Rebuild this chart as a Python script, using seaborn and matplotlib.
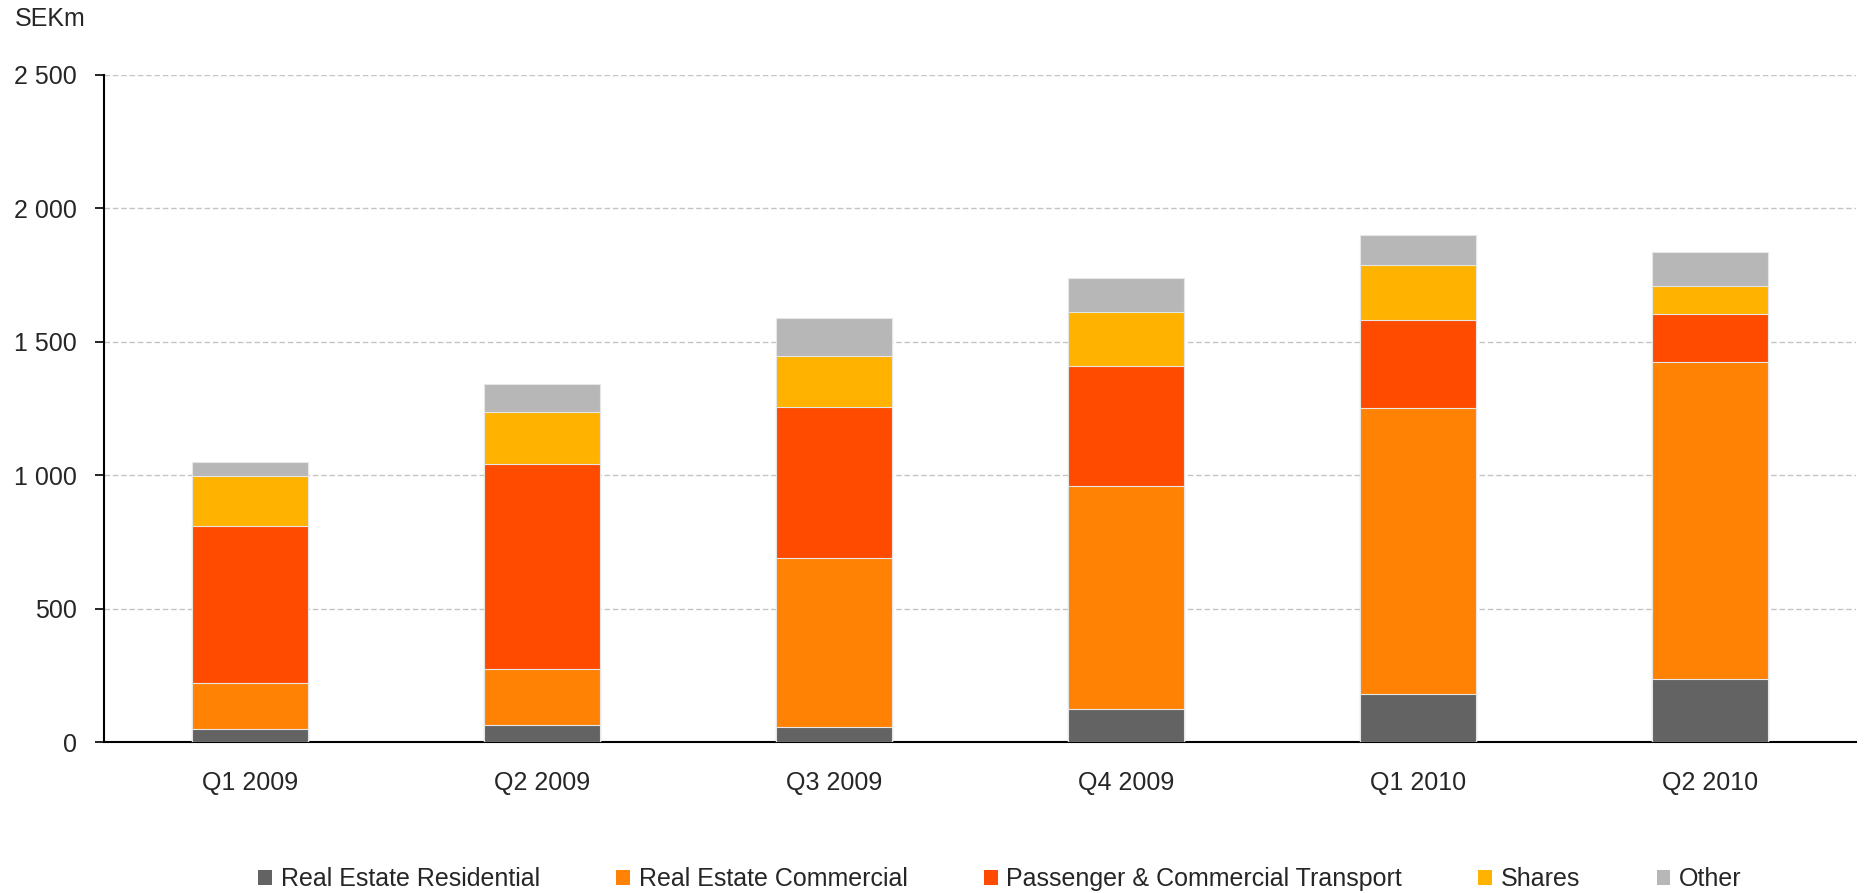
import numpy as np
import pandas as pd
import matplotlib
matplotlib.use("Agg")
import matplotlib.pyplot as plt
from matplotlib.patches import Patch
from matplotlib.ticker import FuncFormatter
import seaborn as sns

quarters = ["Q1 2009", "Q2 2009", "Q3 2009", "Q4 2009", "Q1 2010", "Q2 2010"]
series_names = ["Real Estate Residential", "Real Estate Commercial",
                "Passenger & Commercial Transport", "Shares", "Other"]
residential = [47, 62, 56, 122, 181, 235]
commercial = [173, 211, 634, 839, 1072, 1189]
transport = [589, 769, 567, 448, 327, 179]
shares = [188, 194, 188, 201, 209, 105]
other = [53, 105, 143, 128, 113, 128]
colors = ["#636363", "#FF8204", "#FF4B00", "#FFB300", "#B7B7B7"]

sns.set_theme(style="white")
plt.rcParams["font.family"] = ["Liberation Sans", "DejaVu Sans"]

fig = plt.figure(figsize=(18.64, 8.93), dpi=100)
ax = fig.add_axes([104 / 1864, (893 - 742) / 893, 1752 / 1864, 667 / 893])

values = np.array([residential, commercial, transport, shares, other], dtype=float)
cum = np.cumsum(values, axis=0)

# draw from top layer down so lower segments overlay
for i in range(len(series_names) - 1, -1, -1):
    df = pd.DataFrame({"quarter": quarters, "value": cum[i]})
    sns.barplot(data=df, x="quarter", y="value", order=quarters, color=colors[i],
                width=0.40, saturation=1, edgecolor="#E6E6E6", linewidth=0.8,
                ax=ax, zorder=3)

ax.set_xlim(-0.5, len(quarters) - 0.5)
ax.set_ylim(0, 2500)
ax.set_yticks([0, 500, 1000, 1500, 2000, 2500])
ax.yaxis.set_major_formatter(FuncFormatter(lambda v, p: f"{v:,.0f}".replace(",", " ")))
ax.grid(axis="y", color="#C4C4C4", linestyle=(0, (4, 2)), linewidth=1.0, zorder=0)
ax.set_axisbelow(True)
ax.set_xlabel("")
ax.set_ylabel("")

for s in ["top", "right"]:
    ax.spines[s].set_visible(False)
ax.spines["left"].set_color("black")
ax.spines["left"].set_linewidth(1.5)
ax.spines["bottom"].set_color("black")
ax.spines["bottom"].set_linewidth(1.5)

ax.tick_params(axis="y", which="major", length=6.5, width=1.2, color="black",
               labelsize=18, pad=13, left=True, direction="out")
ax.tick_params(axis="x", length=0, labelsize=18, pad=21)

fig.text(15 / 1864, 1 - 19 / 893, "SEKm", fontsize=18, va="center", ha="left")

handles = [Patch(facecolor=c, edgecolor="none") for c in colors]
leg = fig.legend(handles, series_names, loc="center", ncol=5,
                 bbox_to_anchor=(1000 / 1864, 14 / 893), frameon=False,
                 fontsize=18, handlelength=0.55, handleheight=0.55,
                 handletextpad=0.35, columnspacing=3.05, borderpad=0)

fig.savefig("out.png", dpi=100)
